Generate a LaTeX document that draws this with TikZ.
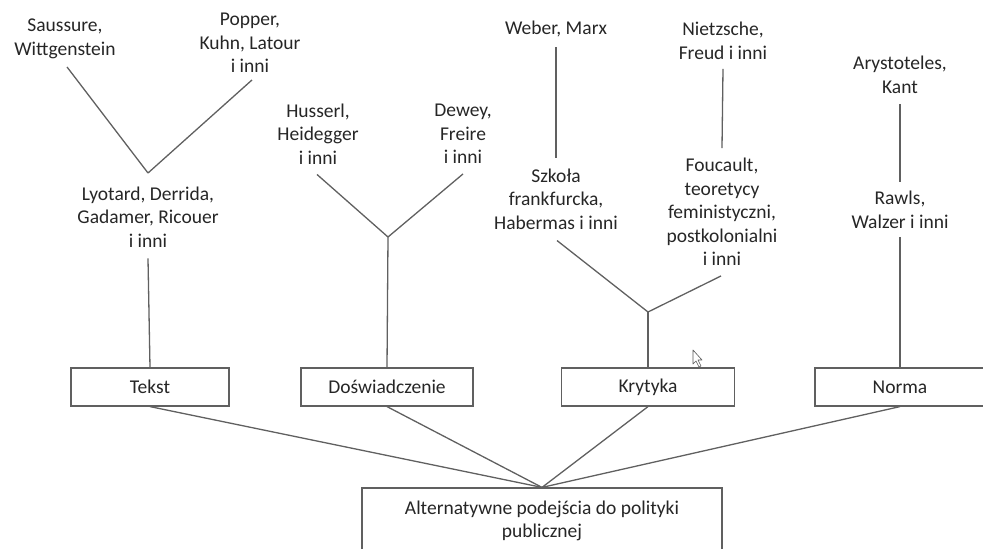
\documentclass[tikz,border=0pt]{standalone}
\usepackage{fontspec}
\setmainfont{Carlito}
\begin{document}
\begin{tikzpicture}[x=1pt,y=-1pt,
  lbl/.style={align=center,font=\fontsize{19.5}{23.5}\selectfont,text=black!85,inner sep=0pt},
  box/.style={draw=gray!75!black,line width=1.2pt,inner sep=0pt,minimum height=38pt,fill=white,
              font=\fontsize{19.5}{23.5}\selectfont,text=black!85,align=center},
  conn/.style={draw=gray!75!black,line width=1.3pt}]
\useasboundingbox (0,0) rectangle (983,549);
% text nodes
\node[lbl] (saus) at (65,39) {Saussure,\\Wittgenstein};
\node[lbl] (popper) at (250,43) {Popper,\\Kuhn, Latour\\i inni};
\node[lbl] (lyot) at (148,217) {Lyotard, Derrida,\\Gadamer, Ricouer\\i inni};
\node[lbl] (huss) at (318,134) {Husserl,\\Heidegger\\i inni};
\node[lbl] (dewey) at (463,134) {Dewey,\\Freire\\i inni};
\node[lbl] (weber) at (556,29) {Weber, Marx};
\node[lbl] (szkola) at (556,199) {Szkoła\\frankfurcka,\\Habermas i inni};
\node[lbl] (nietz) at (723,41) {Nietzsche,\\Freud i inni};
\node[lbl] (fouc) at (722,212) {Foucault,\\teoretycy\\feministyczni,\\postkolonialni\\i inni};
\node[lbl] (arys) at (900,75) {Arystoteles,\\Kant};
\node[lbl] (rawls) at (900,210) {Rawls,\\Walzer i inni};
% boxes
\node[box,minimum width=158pt] (tekst) at (150,387) {Tekst};
\node[box,minimum width=172pt] (dosw) at (387,387) {Doświadczenie};
\node[box,minimum width=173pt] (kryt) at (648,387) {Krytyka};
\node[box,minimum width=170pt] (norma) at (900,387) {Norma};
\node[box,minimum width=360pt,minimum height=66pt] (alt) at (542,521) {Alternatywne podejścia do polityki\\publicznej};
% junctions
\coordinate (j1) at (148,173);
\coordinate (j2) at (388,237);
\coordinate (j3) at (648,312);
% tree connectors
\draw[conn] ([xshift=2pt,yshift=-8pt]saus.south) -- (j1);
\draw[conn] ([xshift=2pt,yshift=-7pt]popper.south) -- (j1);
\draw[conn] ([yshift=-11pt]lyot.south) -- (tekst.north);
\draw[conn] ([xshift=-1pt,yshift=-10pt]huss.south) -- (j2);
\draw[conn] ([yshift=-10pt]dewey.south) -- (j2);
\draw[conn] (j2) -- (dosw.north);
\draw[conn] ([yshift=-10pt]weber.south) -- ([yshift=10pt]szkola.north);
\draw[conn] ([yshift=-9pt]nietz.south) -- ([yshift=10pt]fouc.north);
\draw[conn] ([xshift=1pt,yshift=-11pt]szkola.south) -- (j3);
\draw[conn] ([xshift=-1pt,yshift=-10pt]fouc.south) -- (j3);
\draw[conn] (j3) -- (kryt.north);
\draw[conn] ([yshift=-10pt]arys.south) -- ([yshift=9pt]rawls.north);
\draw[conn] ([yshift=-8pt]rawls.south) -- (norma.north);
% to base
\draw[conn] (tekst.south) -- (alt.north);
\draw[conn] (dosw.south) -- (alt.north);
\draw[conn] (kryt.south) -- (alt.north);
\draw[conn] (norma.south) -- (alt.north);
% mouse cursor
\draw[gray!70!black,line width=0.6pt,fill=white,line join=round]
  (693,350) -- (693,364) -- (696,361) -- (699,367) -- (701,366) -- (698,360) -- (702,360) -- cycle;
\end{tikzpicture}
\end{document}
